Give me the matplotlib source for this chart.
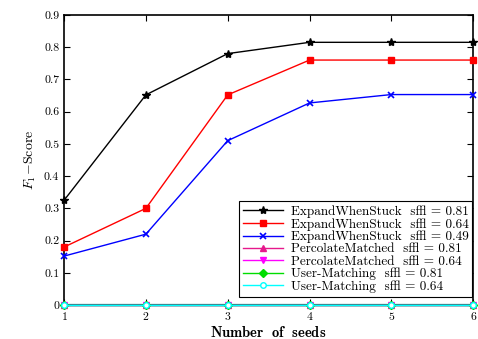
import numpy as np
import matplotlib.pyplot as plt

plt.rcParams["font.family"] = ["cmr10", "DejaVu Serif"]
plt.rcParams["mathtext.fontset"] = "cm"
plt.rcParams["axes.formatter.use_mathtext"] = True
plt.rcParams["axes.unicode_minus"] = False

seeds = [1, 2, 3, 4, 5, 6]
ews_081 = [0.325, 0.652, 0.780, 0.815, 0.815, 0.815]
ews_064 = [0.180, 0.300, 0.652, 0.760, 0.760, 0.760]
ews_049 = [0.152, 0.220, 0.510, 0.627, 0.653, 0.653]
pm_081 = [0, 0, 0, 0, 0, 0]
pm_064 = [0, 0, 0, 0, 0, 0]
um_081 = [0, 0, 0, 0, 0, 0]
um_064 = [0, 0, 0, 0, 0, 0]

fig = plt.figure(figsize=(4.78, 3.39), dpi=100)
ax = fig.add_axes([0.134, 0.100, 0.856, 0.856])

kw = dict(lw=1, clip_on=False, zorder=3)
ax.plot(seeds, ews_081, color='black', marker='*', ms=6, label='ExpandWhenStuck  s² = 0.81', **kw)
ax.plot(seeds, ews_064, color='red', marker='s', ms=5, label='ExpandWhenStuck  s² = 0.64', **kw)
ax.plot(seeds, ews_049, color='blue', marker='x', ms=4, mew=1.2, label='ExpandWhenStuck  s² = 0.49', **kw)
ax.plot(seeds, pm_081, color='#e6198c', marker='^', ms=5, label='PercolateMatched  s² = 0.81', **kw)
ax.plot(seeds, pm_064, color='magenta', marker='v', ms=5, label='PercolateMatched  s² = 0.64', **kw)
ax.plot(seeds, um_081, color='#00dd00', marker='D', ms=4, label='User-Matching  s² = 0.81', **kw)
ax.plot(seeds, um_064, color='cyan', marker='o', ms=4, mfc='white', label='User-Matching  s² = 0.64', **kw)
# green and cyan lines overlap at zero and look teal
ax.plot(seeds, um_064, color='#008080', lw=1.6, clip_on=False, zorder=2.9)

ax.set_xlim(1, 6)
ax.set_ylim(0, 0.9)
ax.set_xticks(seeds)
ax.set_yticks(np.arange(0, 0.91, 0.1))
ax.set_yticklabels(['0', '0.1', '0.2', '0.3', '0.4', '0.5', '0.6', '0.7', '0.8', '0.9'])
ax.tick_params(direction='in', top=True, right=True, labelsize=8.5, length=4)
for sp in ax.spines.values():
    sp.set_linewidth(1.2)

ax.set_xlabel(r'$\mathbf{Number\ \ of\ \ seeds}$', fontsize=10.5, va='center')
ax.xaxis.set_label_coords(0.5, -0.093)
ax.set_ylabel(r'$F_1\!-\!$Score', fontsize=10)

leg = ax.legend(loc='lower right', bbox_to_anchor=(0.998, 0.028), borderaxespad=0, fontsize=9.5,
                fancybox=False, edgecolor='black', framealpha=1, handlelength=3, labelspacing=0.0,
                borderpad=0.3, handletextpad=0.6)
leg.get_frame().set_linewidth(0.8)
leg.set_zorder(5)

fig.savefig('out.png', dpi=100)
